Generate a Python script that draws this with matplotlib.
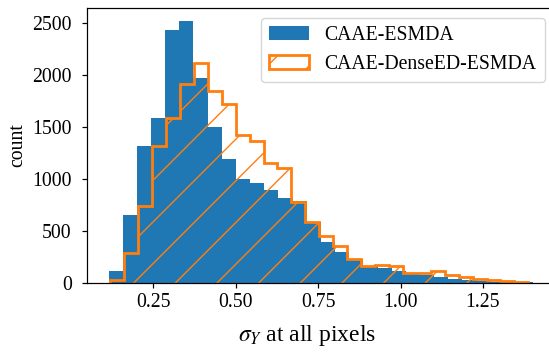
import numpy as np
import matplotlib
matplotlib.use("Agg")
import matplotlib.pyplot as plt

# bin counts of sigma_Y over all pixels, 30 bins per method
caae_counts = [113, 653, 1318, 1590, 2437, 2517, 1975, 1503, 1193, 1000,
               960, 894, 814, 790, 588, 390, 299, 225, 160, 140,
               110, 85, 72, 55, 38, 26, 17, 11, 7, 4]
caae_range = (0.1135, 1.403)

dense_counts = [30, 282, 738, 1320, 1585, 1915, 2112, 1842, 1717, 1424,
                1363, 1151, 1100, 775, 580, 452, 355, 232, 165, 170,
                160, 90, 92, 112, 74, 58, 36, 26, 16, 7]
dense_range = (0.1186, 1.388)

labels = ["CAAE-ESMDA", "CAAE-DenseED-ESMDA"]
xticks = [0.25, 0.50, 0.75, 1.00, 1.25]
yticks = [0, 500, 1000, 1500, 2000, 2500]

plt.rcParams["font.family"] = "serif"
plt.rcParams["font.serif"] = ["Liberation Serif", "DejaVu Serif"]
plt.rcParams["mathtext.fontset"] = "stix"
plt.rcParams["font.size"] = 5.7
plt.rcParams["axes.linewidth"] = 0.35
plt.rcParams["patch.linewidth"] = 0.4
plt.rcParams["hatch.linewidth"] = 0.4
plt.rcParams["hatch.color"] = "#ff7f0e"
for ax_name in ("xtick", "ytick"):
    plt.rcParams[ax_name + ".major.size"] = 1.5
    plt.rcParams[ax_name + ".major.width"] = 0.35
plt.rcParams["xtick.major.pad"] = 1.4
plt.rcParams["ytick.major.pad"] = 3.0

dpi = 250
fig = plt.figure(figsize=(549 / dpi, 352 / dpi), dpi=dpi)
ax = fig.add_axes([0.159, 0.197, 0.851, 0.7795])

edges_a = np.linspace(caae_range[0], caae_range[1], len(caae_counts) + 1)
edges_b = np.linspace(dense_range[0], dense_range[1], len(dense_counts) + 1)

ax.hist(edges_a[:-1], bins=edges_a, weights=caae_counts, color="#1f77b4",
        label=labels[0])
ax.hist(edges_b[:-1], bins=edges_b, weights=dense_counts, histtype="step",
        color="#ff7f0e", linewidth=0.8, hatch="//", label=labels[1])

ax.set_xticks(xticks)
ax.set_yticks(yticks)
ax.set_xlabel(r"$\sigma_Y$ at all pixels", fontsize=6.8)
ax.set_ylabel("count", labelpad=1.5)
ax.xaxis.set_label_coords(0.471, -0.147)

ax.legend(loc="upper right")

fig.savefig("out.png", dpi=dpi)
